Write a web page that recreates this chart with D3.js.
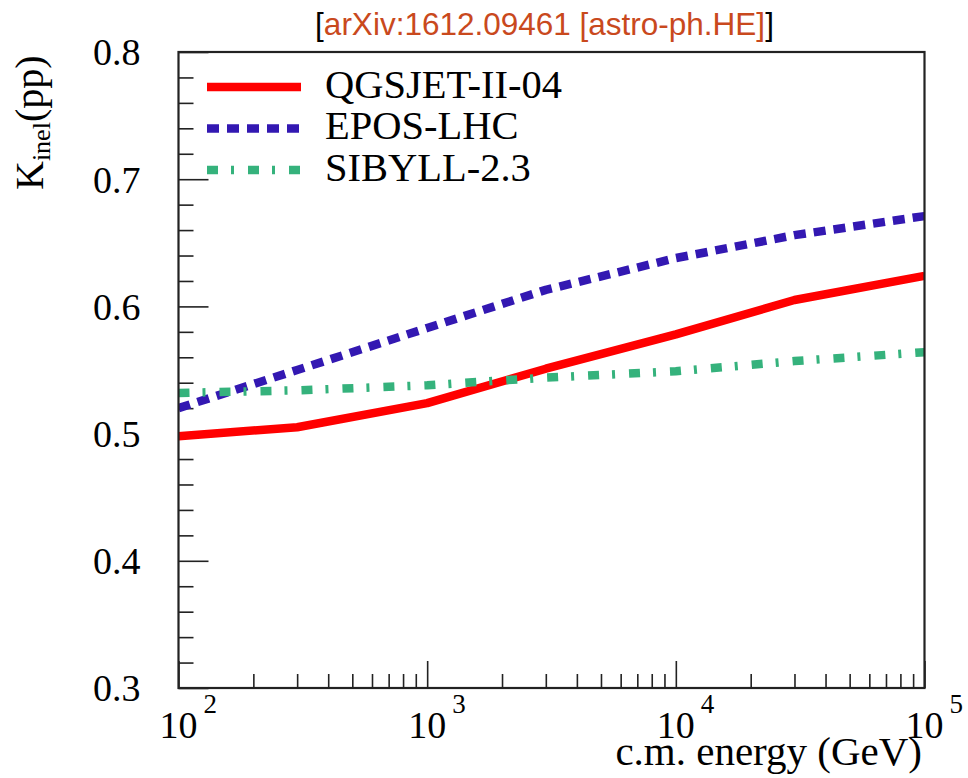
<!DOCTYPE html>
<html>
<head>
<meta charset="utf-8">
<script src="https://cdn.jsdelivr.net/npm/d3@7"></script>
<style>
  html, body { margin: 0; padding: 0; background: #fff; }
  svg { display: block; }
</style>
</head>
<body>
<svg id="chart" width="968" height="778"></svg>
<script>
// ---- data ----
const energies = [100, 300, 1000, 3000, 10000, 30000, 100000];
const qgsjet = [0.498, 0.505, 0.524, 0.551, 0.578, 0.605, 0.624];
const epos   = [0.520, 0.550, 0.583, 0.613, 0.638, 0.656, 0.671];
const sibyll = [0.532, 0.534, 0.538, 0.544, 0.549, 0.557, 0.564];
const seriesNames = ["QGSJET-II-04", "EPOS-LHC", "SIBYLL-2.3"];
const yMajorTicks = [0.3, 0.4, 0.5, 0.6, 0.7, 0.8];
const xMajorTicks = [100, 1000, 10000, 100000];
const xTickExponents = ["2", "3", "4", "5"];

// ---- layout ----
const L = 178.5, R = 924.5, T = 52, B = 688;
const svg = d3.select("#chart");
const x = d3.scaleLog().domain([100, 100000]).range([L, R]);
const y = d3.scaleLinear().domain([0.3, 0.8]).range([B, T]);

const serif = "'Liberation Serif', 'Times New Roman', serif";
const sans = "'Liberation Sans', Arial, sans-serif";

// title
const title = svg.append("text")
  .attr("x", 544.5).attr("y", 35)
  .attr("text-anchor", "middle")
  .attr("font-family", sans).attr("font-size", 31.5);
title.append("tspan").attr("fill", "#000").text("[");
title.append("tspan").attr("fill", "#c9491d").text("arXiv:1612.09461 [astro-ph.HE]");
title.append("tspan").attr("fill", "#000").text("]");

// minor tick values
const yMinor = d3.range(0.3, 0.8001, 0.02).filter(v => Math.abs(Math.round(v * 10) - v * 10) > 1e-6);
const xMinor = [];
[100, 1000, 10000].forEach(d => { for (let k = 2; k <= 9; k++) xMinor.push(d * k); });

// y axis (ticks inward, labels outside)
const yAxisMajor = d3.axisLeft(y).tickValues(yMajorTicks).tickSize(-30).tickPadding(38)
  .tickFormat(d3.format(".1f"));
const gy = svg.append("g").attr("transform", `translate(${L},0)`).call(yAxisMajor);
gy.select(".domain").remove();
gy.selectAll("line").attr("stroke", "#222").attr("stroke-width", 1.6);
gy.selectAll("text").attr("font-family", serif).attr("font-size", 38).attr("fill", "#000")
  .attr("dy", "0.34em");

const yAxisMinor = d3.axisLeft(y).tickValues(yMinor).tickSize(-15).tickFormat("");
const gym = svg.append("g").attr("transform", `translate(${L},0)`).call(yAxisMinor);
gym.select(".domain").remove();
gym.selectAll("line").attr("stroke", "#222").attr("stroke-width", 1.6);

// x axis
const xAxisMajor = d3.axisBottom(x).tickValues(xMajorTicks).tickSize(-27).tickFormat("");
const gx = svg.append("g").attr("transform", `translate(0,${B})`).call(xAxisMajor);
gx.select(".domain").remove();
gx.selectAll("line").attr("stroke", "#222").attr("stroke-width", 1.6);

const xAxisMinor = d3.axisBottom(x).tickValues(xMinor).tickSize(-14).tickFormat("");
const gxm = svg.append("g").attr("transform", `translate(0,${B})`).call(xAxisMinor);
gxm.select(".domain").remove();
gxm.selectAll("line").attr("stroke", "#222").attr("stroke-width", 1.6);

// x tick labels "10^n"
xMajorTicks.forEach((v, i) => {
  const cx = x(v);
  svg.append("text").attr("x", cx).attr("y", 738)
    .attr("text-anchor", "middle")
    .attr("font-family", serif).attr("font-size", 38).attr("fill", "#000")
    .text("10");
  svg.append("text").attr("x", cx + 25).attr("y", 713)
    .attr("font-family", serif).attr("font-size", 27).attr("fill", "#000")
    .text(xTickExponents[i]);
});

// axis titles
svg.append("text").attr("x", 922).attr("y", 765)
  .attr("text-anchor", "end")
  .attr("font-family", serif).attr("font-size", 41).attr("fill", "#000")
  .text("c.m. energy (GeV)");

const yt = svg.append("text")
  .attr("transform", "translate(43,190) rotate(-90)")
  .attr("font-family", serif).attr("font-size", 40).attr("fill", "#000");
yt.append("tspan").text("K");
yt.append("tspan").attr("font-size", 26).attr("dy", 7).text("inel");
yt.append("tspan").attr("dy", -7).text("(pp)");

// clip
svg.append("clipPath").attr("id", "plotclip")
  .append("rect").attr("x", L).attr("y", T).attr("width", R - L).attr("height", B - T);

const styles = [
  { color: "#ff0000", dash: null },
  { color: "#3318b2", dash: "12,8" },
  { color: "#35b27c", dash: "11,13,3,14" }
];
const allSeries = [qgsjet, epos, sibyll];

const line = d3.line().x(d => x(d[0])).y(d => y(d[1])).curve(d3.curveLinear);

allSeries.forEach((vals, i) => {
  const pts = energies.map((e, j) => [e, vals[j]]);
  svg.append("path")
    .attr("clip-path", "url(#plotclip)")
    .attr("d", line(pts))
    .attr("fill", "none")
    .attr("stroke", styles[i].color)
    .attr("stroke-width", 8.5)
    .attr("stroke-linejoin", "round")
    .attr("stroke-dasharray", styles[i].dash);
});

// legend
const legY = [87, 128.5, 170];
seriesNames.forEach((name, i) => {
  svg.append("line")
    .attr("x1", 207).attr("x2", 301).attr("y1", legY[i]).attr("y2", legY[i])
    .attr("stroke", styles[i].color).attr("stroke-width", 8.5)
    .attr("stroke-dasharray", styles[i].dash);
  svg.append("text").attr("x", 325).attr("y", legY[i] + 10.5)
    .attr("font-family", serif).attr("font-size", 40.5).attr("fill", "#000")
    .text(name);
});

// frame
svg.append("rect").attr("x", L).attr("y", T).attr("width", R - L).attr("height", B - T)
  .attr("fill", "none").attr("stroke", "#222").attr("stroke-width", 2.2);
</script>
</body>
</html>
